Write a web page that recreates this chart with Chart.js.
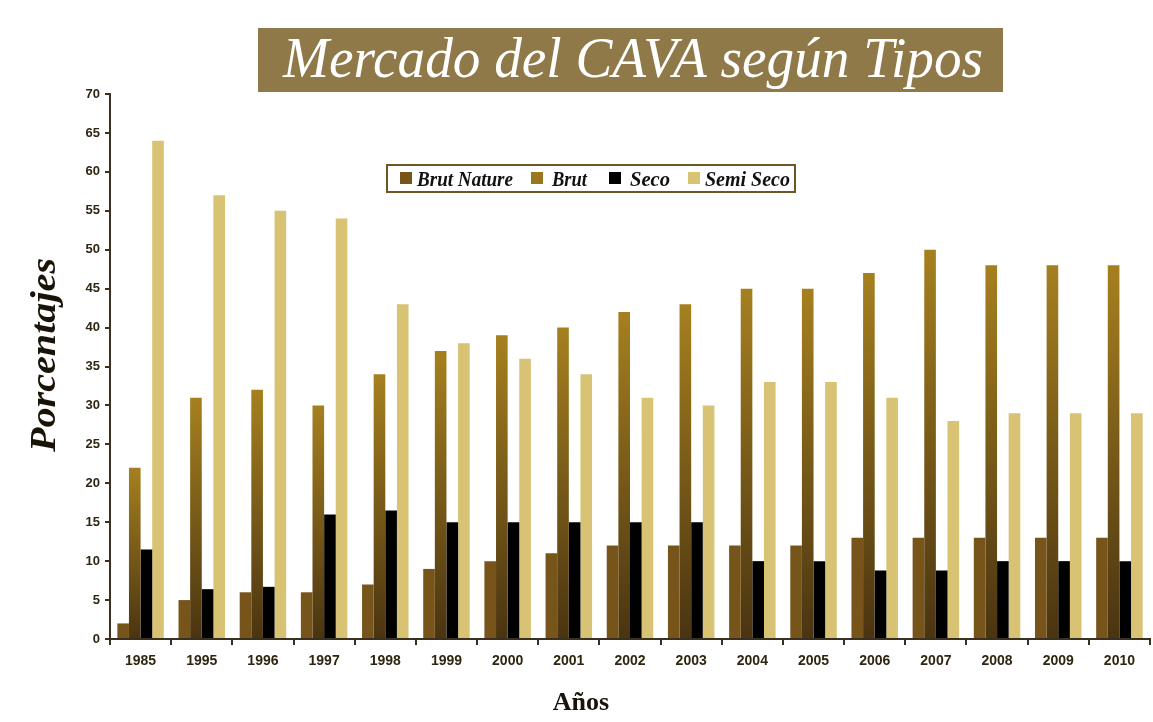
<!DOCTYPE html>
<html>
<head>
<meta charset="utf-8">
<script src="https://cdn.jsdelivr.net/npm/chart.js@4.4.0/dist/chart.umd.min.js"></script>
<style>
html,body{margin:0;padding:0;background:#ffffff;}
#wrap{position:relative;width:1153px;height:722px;}
</style>
</head>
<body>
<div id="wrap"><canvas id="c" width="1153" height="722"></canvas></div>
<script>
const years = ['1985','1995','1996','1997','1998','1999','2000','2001','2002','2003','2004','2005','2006','2007','2008','2009','2010'];
const brutNature = [2,5,6,6,7,9,10,11,12,12,12,12,13,13,13,13,13];
const brut = [22,31,32,30,34,37,39,40,42,43,45,45,47,50,48,48,48];
const seco = [11.5,6.4,6.7,16,16.5,15,15,15,15,15,10,10,8.8,8.8,10,10,10];
const semiSeco = [64,57,55,54,43,38,36,34,31,30,33,33,31,28,29,29,29];
const yTicks = [0,5,10,15,20,25,30,35,40,45,50,55,60,65,70];
const seriesNames = ['Brut Nature','Brut','Seco','Semi Seco'];
const titleText = 'Mercado del CAVA según Tipos';
const yTitle = 'Porcentajes';
const xTitle = 'Años';

const legendColors = ['#77551a','#9a761c','#000000','#d8c274'];

function brutGradient(ctx){
  const chart = ctx.chart;
  if (!chart.chartArea || ctx.type !== 'data') return '#8a6a1a';
  const ys = chart.scales.y;
  const top = ys.getPixelForValue(ctx.raw);
  const bot = ys.getPixelForValue(0);
  const g = chart.ctx.createLinearGradient(0, top, 0, bot);
  g.addColorStop(0, '#a6801f');
  g.addColorStop(1, '#4a3411');
  return g;
}

function fitText(c, text, x, y, width){
  const w = c.measureText(text).width;
  c.save();
  c.translate(x, y);
  c.scale(width / w, 1);
  c.fillText(text, 0, 0);
  c.restore();
}

const decor = {
  id: 'decor',
  beforeDraw(chart){
    const c = chart.ctx;
    c.save();
    c.fillStyle = '#ffffff';
    c.fillRect(0,0,chart.width,chart.height);
    // title banner
    c.fillStyle = '#8f7949';
    c.fillRect(258, 28, 745, 64);
    c.fillStyle = '#ffffff';
    c.font = 'italic 58px "Liberation Serif", "DejaVu Serif", serif';
    c.textBaseline = 'alphabetic';
    fitText(c, titleText, 283, 77, 700);
    c.restore();

    // y axis title
    c.save();
    c.fillStyle = '#1a1408';
    c.font = 'italic bold 36px "Liberation Serif", "DejaVu Serif", serif';
    c.translate(55, 355);
    c.rotate(-Math.PI/2);
    c.textBaseline = 'alphabetic';
    fitText(c, yTitle, -97, 0, 194);
    c.restore();

    // x axis title
    c.save();
    c.fillStyle = '#1a1408';
    c.font = 'bold 26px "Liberation Serif", "DejaVu Serif", serif';
    c.textAlign = 'center';
    c.textBaseline = 'alphabetic';
    c.fillText(xTitle, 581, 710);
    c.restore();
  },
  afterDraw(chart){
    const c = chart.ctx;
    c.save();
    // legend box
    const bx = 387, by = 165, bw = 408, bh = 27;
    c.fillStyle = '#ffffff';
    c.fillRect(bx, by, bw, bh);
    c.strokeStyle = '#6e5622';
    c.lineWidth = 2;
    c.strokeRect(bx, by, bw, bh);
    c.font = 'italic bold 20px "Liberation Serif", "DejaVu Serif", serif';
    c.textBaseline = 'alphabetic';
    const swX = [400, 531, 609, 688];
    const txX = [417, 552, 630, 705];
    const txW = [96, 35, 40, 85];
    chart.data.datasets.forEach((ds, i) => {
      c.fillStyle = legendColors[i];
      c.fillRect(swX[i], by + 7, 12, 12);
      c.fillStyle = '#111111';
      fitText(c, ds.label, txX[i], by + 21, txW[i]);
    });
    c.restore();
  }
};

new Chart(document.getElementById('c'), {
  type: 'bar',
  data: {
    labels: years,
    datasets: [
      {label: seriesNames[0], data: brutNature, backgroundColor: '#77551a'},
      {label: seriesNames[1], data: brut, backgroundColor: brutGradient},
      {label: seriesNames[2], data: seco, backgroundColor: '#000000'},
      {label: seriesNames[3], data: semiSeco, backgroundColor: '#d8c274'}
    ]
  },
  options: {
    responsive: false,
    animation: false,
    devicePixelRatio: 1,
    layout: {padding: {top: 94, right: 3, left: 0, bottom: 0}},
    datasets: {bar: {categoryPercentage: 0.76, barPercentage: 1.0, borderWidth: 0}},
    plugins: {legend: {display: false}, title: {display: false}, tooltip: {enabled: false}},
    scales: {
      x: {
        grid: {offset: true, drawOnChartArea: false, drawTicks: true, tickLength: 6, color: '#3a3020', lineWidth: 2},
        border: {display: true, color: '#3a3020', width: 2},
        ticks: {color: '#2e2610', font: {family: '"Liberation Sans", Arial, sans-serif', size: 14, weight: 'bold'}, padding: 8, maxRotation: 0, autoSkip: false},
        afterFit(s){ s.height = 83; }
      },
      y: {
        min: 0, max: 70,
        afterBuildTicks(s){ s.ticks = yTicks.map(v => ({value: v})); },
        grid: {drawOnChartArea: false, drawTicks: true, tickLength: 5, color: '#3a3020', lineWidth: 2},
        border: {display: true, color: '#3a3020', width: 2},
        ticks: {color: '#2e2610', font: {family: '"Liberation Sans", Arial, sans-serif', size: 13, weight: 'bold'}, padding: 5},
        afterFit(s){ s.width = 110; }
      }
    }
  },
  plugins: [decor]
});
</script>
</body>
</html>
